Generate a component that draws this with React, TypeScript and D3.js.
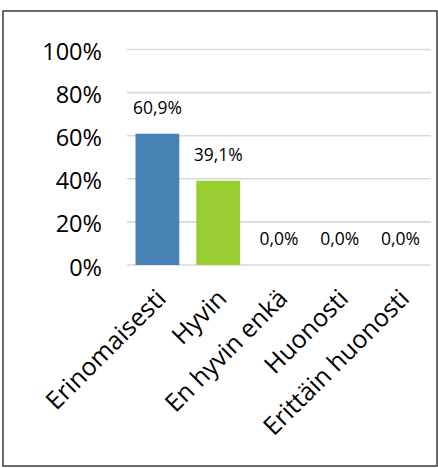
import React from "react";
import * as d3 from "d3";

const categories = ["Erinomaisesti", "Hyvin", "En hyvin enkä", "Huonosti", "Erittäin huonosti"];
const values = [0.609, 0.391, 0, 0, 0];
const barColors = ["#4682B4", "#9ACD32", "#9ACD32", "#9ACD32", "#9ACD32"];
const yTicks = [0, 0.2, 0.4, 0.6, 0.8, 1.0];

const W = 438;
const H = 468;
const FONT = "'Open Sans', 'DejaVu Sans', sans-serif";

const fiLocale = d3.formatLocale({ decimal: ",", thousands: " ", grouping: [3], currency: ["", "€"] });
const fmtVal = fiLocale.format(".1%");
const fmtTick = fiLocale.format(".0%");

export default function App() {
  const x = d3.scaleBand<string>().domain(categories).range([127, 431]).paddingInner(0.28).paddingOuter(0.14);
  const y = d3.scaleLinear().domain([0, 1]).range([265, 49.5]);

  return (
    <svg width={W} height={H} style={{ position: "absolute", left: 0, top: 0, background: "#fff" }} fontFamily={FONT}>
      <rect x={3} y={11} width={434} height={455} fill="#fff" stroke="#3a3a3a" strokeWidth={1.5} />
      {yTicks.map((t) => (
        <g key={t}>
          <line x1={127} x2={431} y1={y(t)} y2={y(t)} stroke="#d9d9d9" strokeWidth={1.6} />
          <text x={102} y={y(t) + 10.5} textAnchor="end" fontSize={23.5} fill="#000">
            {fmtTick(t)}
          </text>
        </g>
      ))}
      {categories.map((c, i) => {
        const bx = x(c)!;
        const bw = x.bandwidth();
        const top = y(values[i]);
        return (
          <g key={c}>
            <rect x={bx} y={top} width={bw} height={y(0) - top} fill={barColors[i]} />
            <text x={bx + bw / 2} y={top - 20} textAnchor="middle" fontSize={17.5} fill="#000">
              {fmtVal(values[i])}
            </text>
            <text
              transform={`translate(${bx + bw / 2 + 10},300) rotate(-45)`}
              textAnchor="end"
              fontSize={25}
              fill="#000"
            >
              {c}
            </text>
          </g>
        );
      })}
    </svg>
  );
}
